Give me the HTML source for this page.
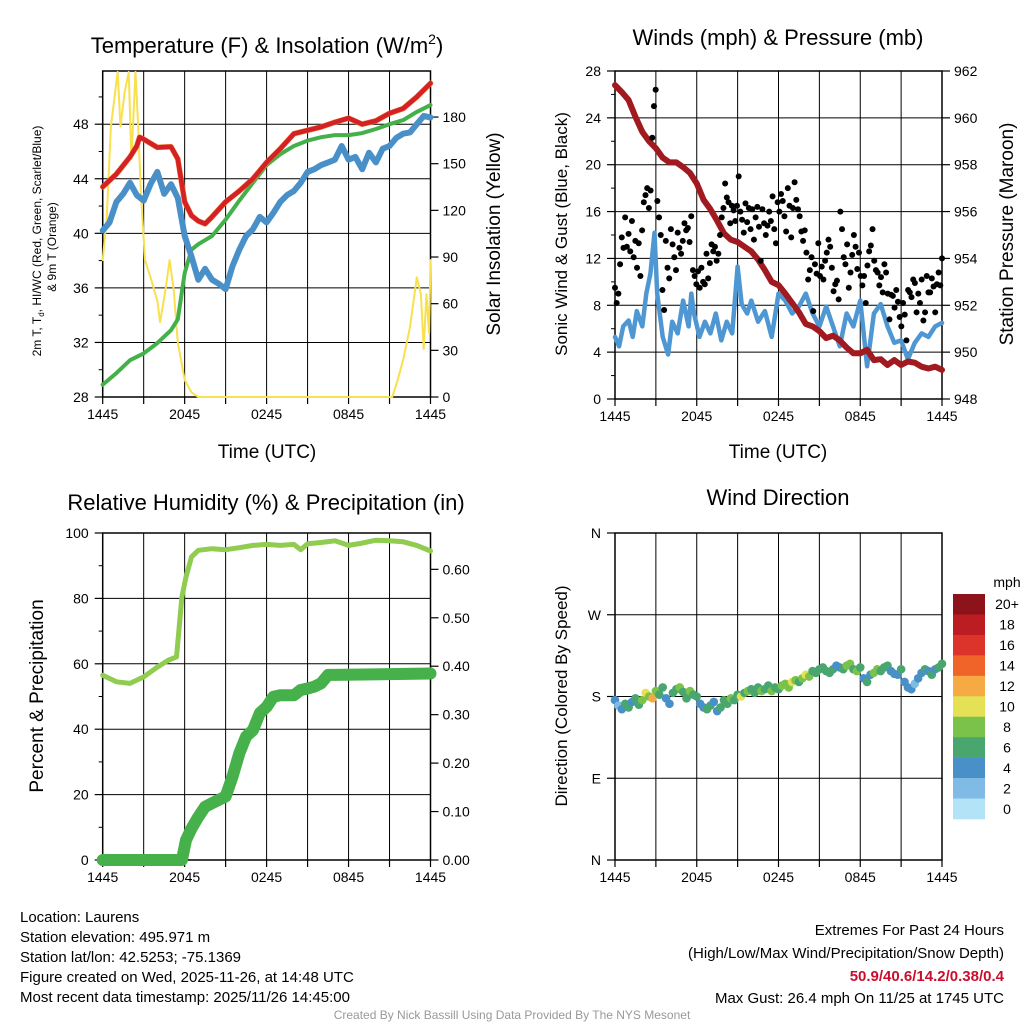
<!DOCTYPE html>
<html><head><meta charset="utf-8">
<style>
html,body{margin:0;padding:0;background:#fff;}
svg{display:block;font-family:"Liberation Sans",Arial,sans-serif;}
</style></head>
<body>
<svg id="root" width="1024" height="1024" viewBox="0 0 1024 1024" xmlns="http://www.w3.org/2000/svg">
<rect width="1024" height="1024" fill="#fff"/>
<g id="p1"></g>
<g id="p2"></g>
<g id="p3"></g>
<g id="p4"></g>

<text x="267" y="53" font-size="22" text-anchor="middle">Temperature (F) &amp; Insolation (W/m<tspan font-size="14" dy="-9">2</tspan><tspan dy="9">)</tspan></text>
<text x="778" y="45" font-size="22" text-anchor="middle">Winds (mph) &amp; Pressure (mb)</text>
<text x="266" y="510" font-size="22" text-anchor="middle">Relative Humidity (%) &amp; Precipitation (in)</text>
<text x="778" y="505" font-size="22" text-anchor="middle">Wind Direction</text>

<text x="267" y="458" font-size="19" text-anchor="middle">Time (UTC)</text>
<text x="778" y="458" font-size="19" text-anchor="middle">Time (UTC)</text>

<text transform="translate(41,241) rotate(-90)" font-size="12" text-anchor="middle">2m T, T<tspan font-size="8" dy="3">d</tspan><tspan dy="-3">, HI/WC (Red, Green, Scarlet/Blue)</tspan></text>
<text transform="translate(56,247) rotate(-90)" font-size="12" text-anchor="middle">&amp; 9m T (Orange)</text>
<text transform="translate(500,234) rotate(-90)" font-size="19" text-anchor="middle">Solar Insolation (Yellow)</text>
<text transform="translate(567,234) rotate(-90)" font-size="17" text-anchor="middle">Sonic Wind &amp; Gust (Blue, Black)</text>
<text transform="translate(1013,234) rotate(-90)" font-size="19" text-anchor="middle">Station Pressure (Maroon)</text>
<text transform="translate(43,696) rotate(-90)" font-size="19" text-anchor="middle">Percent &amp; Precipitation</text>
<text transform="translate(567,696) rotate(-90)" font-size="17" text-anchor="middle">Direction (Colored By Speed)</text>

<g font-size="15">
<text x="20" y="922">Location: Laurens</text>
<text x="20" y="942">Station elevation: 495.971 m</text>
<text x="20" y="962">Station lat/lon: 42.5253; -75.1369</text>
<text x="20" y="982">Figure created on Wed, 2025-11-26, at 14:48 UTC</text>
<text x="20" y="1002">Most recent data timestamp: 2025/11/26 14:45:00</text>
</g>
<g font-size="15" text-anchor="end">
<text x="1004" y="935">Extremes For Past 24 Hours</text>
<text x="1004" y="958">(High/Low/Max Wind/Precipitation/Snow Depth)</text>
<text x="1004" y="981" fill="#c8102e" font-weight="bold">50.9/40.6/14.2/0.38/0.4</text>
<text x="1004" y="1003">Max Gust: 26.4 mph On 11/25 at 1745 UTC</text>
</g>
<text x="512" y="1019" font-size="12" fill="#999" text-anchor="middle">Created By Nick Bassill Using Data Provided By The NYS Mesonet</text>
</svg>
<script>
// ---------- data ----------
const timeTickLabels = ["1445","2045","0245","0845","1445"];
const tempTicks = [28,32,36,40,44,48];
const solTicks = [0,30,60,90,120,150,180];
const windTicks = [0,4,8,12,16,20,24,28];
const presTicks = [948,950,952,954,956,958,960,962];
const rhTicks = [0,20,40,60,80,100];
const precipTicks = [0,0.1,0.2,0.3,0.4,0.5,0.6];
const precipTickLabels = ["0.00","0.10","0.20","0.30","0.40","0.50","0.60"];
const dirTicks = [0,90,180,270,360];
const dirTickLabels = ["N","E","S","W","N"];
const speedBinLabels = ["20+","18","16","14","12","10","8","6","4","2","0"];
const speedBinColors = ["#8b1319","#bb1d23","#dc342a","#f06429","#f6aa44","#e4e157","#7bc24a","#49a66f","#4a90c8","#7fbbe4","#b3e3f7"];

const tempTimes = [0,1,2,2.5,2.7,3,4,5,5.5,6,6.5,7,7.5,8,9,10,11,12,13,14,15,16,17,18,19,20,21,22,23,24];
const tempVals = [43.4,44.35,45.6,46.4,47.05,46.9,46.3,46.35,45.45,42.3,41.3,40.9,40.7,41.2,42.3,43.1,44.0,45.2,46.2,47.3,47.55,47.8,48.15,48.45,48.0,48.25,48.8,49.15,50.0,51.0];
const greenTimes = [0,1,2,3,4,5,5.5,6,6.5,7,8,9,10,11,12,13,14,15,16,17,18,19,20,21,22,23,24];
const greenVals = [28.9,29.75,30.7,31.2,31.95,32.9,33.7,37.1,38.8,39.2,39.8,41.0,42.4,43.7,45.0,45.8,46.4,46.8,47.05,47.2,47.2,47.35,47.65,48.0,48.3,48.9,49.4];
const dewVals = [40.2,40.8,42.3,42.9,43.7,42.8,42.4,43.6,44.5,42.9,43.6,42.6,39.8,38.3,36.6,37.4,36.6,36.3,35.9,37.6,38.8,39.8,40.3,41.2,40.8,41.5,42.3,42.8,43.1,43.7,44.5,44.7,45.0,45.2,45.4,46.4,45.4,45.6,44.7,45.9,45.2,46.2,46.4,47.0,47.3,47.4,48.0,48.6,48.5];
const solTimes = [0,0.3,0.6,1.1,1.3,1.6,1.9,2.1,2.4,2.6,2.8,3.1,3.5,4,4.2,4.6,4.9,5.2,5.5,6,6.5,7,21.2,21.6,22,22.5,23,23.3,23.5,23.7,23.9,24];
const solVals = [88,116,174,209,174,196,209,153,209,174,131,88,77,62,48,69,88,69,35,11,3,0,0,11,24,45,77,66,31,66,41,88];

const windVals = [5.3,4.5,6.2,6.7,5.3,7.5,6.2,9.0,10.7,14.2,9.0,5.3,3.8,6.6,5.6,8.4,6.2,9.0,7.3,5.3,6.6,5.6,7.3,5.0,6.6,5.6,11.3,8.1,7.3,8.4,6.6,7.5,5.3,9.0,8.4,7.3,7.9,9.0,7.3,6.2,7.9,6.2,4.5,7.3,6.2,8.4,2.8,7.3,8.1,6.2,4.8,5.0,3.4,4.8,5.6,5.3,6.2,6.5];
const windTimes = [0,0.3,0.6,1,1.3,1.6,2,2.3,2.6,2.9,3.1,3.5,3.9,4.2,4.6,5,5.4,5.6,5.8,6.2,6.6,7,7.4,7.8,8.2,8.6,9,9.3,9.7,10,10.5,11,11.5,12,12.5,13,13.5,14,14.5,15,15.5,16,16.5,17,17.5,18,18.5,19,19.5,20,20.5,21,21.5,22,22.5,23,23.5,24];
const presVals = [961.4,961.1,960.76,960.05,959.4,959.0,958.7,958.3,958.1,958.1,957.9,957.65,957.2,956.5,956.1,955.6,955.07,954.8,954.7,954.5,954.3,953.95,953.5,953.0,952.86,952.5,952.1,951.7,951.2,951.1,950.9,950.6,950.7,950.5,950.2,949.95,949.95,950.1,949.66,949.7,949.45,949.66,949.45,949.6,949.55,949.38,949.3,949.38,949.24];
const gustVals = [9.5,8.2,9.0,11.5,13.8,12.9,15.5,13.0,14.1,12.6,15.2,12.1,13.5,11.2,13.3,10.5,14.4,16.8,17.4,18.0,16.3,17.8,22.3,25.0,26.4,16.9,15.5,14.0,9.3,7.6,13.5,11.2,10.3,14.5,13.2,12.1,11.0,14.2,12.9,12.4,13.5,15.0,14.4,14.6,13.4,15.6,11.0,10.5,9.8,10.9,9.5,11.2,10.0,9.8,12.4,10.3,11.6,13.2,12.6,13.0,11.8,12.4,14.0,15.5,16.3,18.4,17.2,16.8,15.0,16.5,16.1,15.2,16.5,19.0,16.0,15.3,14.2,16.7,15.1,16.3,14.5,16.2,13.6,15.5,16.4,14.7,11.8,16.2,15.0,14.0,14.8,16.0,15.2,17.3,14.5,13.3,16.8,16.0,17.5,16.9,15.6,14.3,18.0,16.5,13.8,16.3,18.5,17.0,16.2,15.6,14.3,13.5,14.4,12.5,10.2,11.0,12.1,7.5,11.5,10.7,13.3,10.5,11.3,10.2,11.8,12.5,13.6,13.0,11.2,9.2,9.8,10.1,8.5,16.0,14.5,12.1,11.5,13.2,9.5,10.8,12.3,14.0,13.0,11.1,12.5,10.5,9.7,10.5,8.2,11.4,12.6,13.1,14.5,11.8,11.0,10.8,9.7,10.4,9.1,11.5,10.8,9.0,6.8,8.9,8.8,7.8,9.3,8.3,7.0,6.2,8.2,7.2,5.0,9.3,9.1,8.7,10.2,9.9,7.4,9.0,8.2,10.2,6.7,7.4,10.5,9.1,9.1,10.3,9.6,7.4,9.8,10.8,9.7,12.0];

const rhTimes = [0,1,2,3,4,4.8,5.4,5.8,6.1,6.5,7,8,9,10,11,12,13,14,14.5,15,16,17,18,19,20,21,22,23,24];
const rhVals = [56.5,54.5,54,56,59,61.1,62.1,80.4,86.6,92.7,94.7,95.2,94.9,95.5,96.2,96.5,96.2,96.5,94.9,96.7,97.1,97.6,96.2,96.9,97.8,97.6,97.3,96.2,94.5];
const precipTimes = [0,5.8,6.1,6.5,7,7.5,8,8.5,9,9.5,10,10.5,11,11.5,12,12.5,13,14,14.5,15,15.5,16,16.5,17,24];
const precipVals = [0,0,0.041,0.065,0.089,0.11,0.117,0.124,0.131,0.172,0.22,0.255,0.268,0.303,0.316,0.337,0.34,0.34,0.351,0.354,0.358,0.365,0.382,0.382,0.385];

const dirVals = [176,170,166,172,168,174,178,171,176,184,180,178,186,182,190,178,172,184,188,190,185,178,186,182,180,172,168,166,170,174,164,168,176,172,178,176,182,180,184,186,188,184,190,186,188,192,186,190,188,192,194,190,196,198,196,200,204,202,208,206,210,212,208,206,210,214,212,210,214,216,210,208,212,200,196,204,206,210,208,212,214,208,205,204,210,196,190,188,194,200,206,210,208,204,210,212,216];
const dirSpeeds = [4.5,3.8,5.5,6.5,7.0,5.2,6.8,7.5,8.5,10.5,9.0,13.0,9.5,6.5,7.2,5.0,4.2,6.8,7.5,8.2,6.9,7.4,8.5,6.2,7.0,4.5,5.0,6.5,6.2,4.0,5.5,6.8,7.2,6.5,8.8,7.5,6.6,10.5,7.0,8.2,6.5,7.8,6.8,8.4,7.2,6.9,8.0,6.5,7.4,8.6,9.1,8.2,10.3,8.8,7.5,9.6,10.8,8.5,7.0,6.6,6.8,7.5,6.2,6.9,6.5,5.8,4.3,6.8,8.5,8.8,6.2,8.2,7.0,5.5,6.8,4.5,8.5,9.0,6.2,7.4,6.5,4.2,5.0,4.6,6.5,4.5,4.0,5.0,3.8,4.5,5.2,6.8,4.6,6.7,5.5,6.6,7.0];

// ---------- helpers ----------
const NS = "http://www.w3.org/2000/svg";
function mk(parent, tag, attrs){
  const e = document.createElementNS(NS, tag);
  for (const k in attrs) e.setAttribute(k, attrs[k]);
  parent.appendChild(e);
  return e;
}
function scale(d0,d1,r0,r1){ return v => r0 + (v-d0)/(d1-d0)*(r1-r0); }

function frame(g, P, leftTicks, leftLabels, ls, rightTicks, rightLabels, rs, gridVals, gs, minorLeft){
  const xs = scale(0,24,P.x0,P.x1);
  for (let h=3; h<24; h+=3){
    const l = mk(g,'line',{x1:xs(h),x2:xs(h),y1:P.y0,y2:P.y1,stroke:'#000','stroke-width':1});
    
    
  }
  gridVals.forEach(v=>{
    const l = mk(g,'line',{x1:P.x0,x2:P.x1,y1:gs(v),y2:gs(v),stroke:'#000','stroke-width':1});
    
    
  });
  for (let h=0; h<=24; h+=3){
    mk(g,'line',{x1:xs(h),x2:xs(h),y1:P.y1,y2:P.y1+7,stroke:'#000','stroke-width':1.2});
  }
  timeTickLabels.forEach((s,i)=>{
    const t = mk(g,'text',{x:xs(i*6),y:P.y1+22,'font-size':14,'text-anchor':'middle'});
    t.textContent = s;
    
    
  });
  leftTicks.forEach((v,i)=>{
    mk(g,'line',{x1:P.x0-8,x2:P.x0,y1:ls(v),y2:ls(v),stroke:'#000','stroke-width':1.2});
    const t = mk(g,'text',{x:P.x0-14,y:ls(v)+5,'font-size':14,'text-anchor':'end'});
    t.textContent = leftLabels[i];
    
    
  });
  if (minorLeft) minorLeft.forEach(v=>{
    mk(g,'line',{x1:P.x0-4,x2:P.x0,y1:ls(v),y2:ls(v),stroke:'#000','stroke-width':1});
  });
  if (rightTicks) rightTicks.forEach((v,i)=>{
    mk(g,'line',{x1:P.x1,x2:P.x1+8,y1:rs(v),y2:rs(v),stroke:'#000','stroke-width':1.2});
    const t = mk(g,'text',{x:P.x1+12,y:rs(v)+5,'font-size':14,'text-anchor':'start'});
    t.textContent = rightLabels[i];
    
    
  });
  const b = mk(g,'rect',{x:P.x0,y:P.y0,width:P.x1-P.x0,height:P.y1-P.y0,fill:'none',stroke:'#000','stroke-width':1.5});
  
  
  return xs;
}
function line(g, times, vals, xs, ys, color, w, name){
  let d = '';
  times.forEach((t,i)=>{ d += (i?'L':'M') + xs(t).toFixed(1) + ',' + ys(vals[i]).toFixed(1); });
  const p = mk(g,'path',{d:d,fill:'none',stroke:color,'stroke-width':w,'stroke-linejoin':'round','stroke-linecap':'round'});
  
  
  return p;
}
function evenTimes(n){ const a=[]; for(let i=0;i<n;i++) a.push(i*24/(n-1)); return a; }

// ---------- panel 1 ----------
(function(){
  const g = document.getElementById('p1');
  const P = {x0:102.7,x1:430.5,y0:71,y1:397};
  const ys = scale(28,51.9,P.y1,P.y0);
  const rs = scale(0,209.6,P.y1,P.y0);
  const xs = frame(g,P,tempTicks,tempTicks.map(String),ys,solTicks,solTicks.map(String),rs,tempTicks.slice(1),ys,[30,34,38,42,46,50]);
  line(g,solTimes,solVals,xs,rs,'#f8e04e',2,'insolation-line');
  line(g,greenTimes,greenVals,xs,ys,'#44b04a',4,'dewpoint-green-line');
  line(g,evenTimes(dewVals.length),dewVals,xs,ys,'#4a90c8',6,'heat-index-blue-line');
  line(g,tempTimes,tempVals,xs,ys,'#f07a2a',5.5,'temp-9m-orange-line');
  line(g,tempTimes,tempVals,xs,ys,'#d42027',4.5,'temperature-red-line');
})();

// ---------- panel 2 ----------
(function(){
  const g = document.getElementById('p2');
  const P = {x0:615,x1:942,y0:71,y1:399};
  const ys = scale(0,28,P.y1,P.y0);
  const rs = scale(948,962,P.y1,P.y0);
  const xs = frame(g,P,windTicks,windTicks.map(String),ys,presTicks,presTicks.map(String),rs,windTicks.slice(1,-1),ys,[2,6,10,14,18,22,26]);
  line(g,windTimes,windVals,xs,ys,'#4f97d2',4.5,'sonic-wind-line');
  line(g,evenTimes(presVals.length),presVals,xs,rs,'#a01a1f',6,'pressure-line');
  const gt = evenTimes(gustVals.length);
  gustVals.forEach((v,i)=>{
    const c = mk(g,'circle',{cx:xs(gt[i]),cy:ys(v),r:3,fill:'#000'});
    
    
  });
})();

// ---------- panel 3 ----------
(function(){
  const g = document.getElementById('p3');
  const P = {x0:102.7,x1:430.5,y0:533,y1:860};
  const ys = scale(0,100,P.y1,P.y0);
  const rs = scale(0,0.675,P.y1,P.y0);
  const xs = frame(g,P,rhTicks,rhTicks.map(String),ys,precipTicks,precipTickLabels,rs,rhTicks.slice(1,-1),ys,[10,30,50,70,90]);
  line(g,rhTimes,rhVals,xs,ys,'#8fcc4f',5,'relative-humidity-line');
  line(g,precipTimes,precipVals,xs,rs,'#46b04a',12,'precipitation-line');
})();

// ---------- panel 4 ----------
(function(){
  const g = document.getElementById('p4');
  const P = {x0:615,x1:942,y0:533,y1:860};
  const ys = scale(0,360,P.y1,P.y0);
  const xs = frame(g,P,dirTicks,dirTickLabels,ys,null,null,null,[90,180,270],ys,null);
  const dt = evenTimes(dirVals.length);
  dirVals.forEach((v,i)=>{
    const s = dirSpeeds[i];
    const bin = Math.min(10, Math.floor(s/2));
    const c = mk(g,'circle',{cx:xs(dt[i]),cy:ys(v),r:4.3,fill:speedBinColors[10-bin]});
    
    
  });
  const cb = mk(g,'g',{});
  
  
  const t0 = mk(cb,'text',{x:1007,y:587,'font-size':14,'text-anchor':'middle'});
  t0.textContent = 'mph';
  
  
  const h = 225/speedBinColors.length;
  speedBinColors.forEach((col,i)=>{
    const r = mk(cb,'rect',{x:953,y:594+i*h,width:32,height:h+0.3,fill:col});
    
    
    const t = mk(cb,'text',{x:1007,y:594+i*h+h/2+5,'font-size':14,'text-anchor':'middle'});
    t.textContent = speedBinLabels[i];
    
    
  });
})();
</script>
</body></html>
